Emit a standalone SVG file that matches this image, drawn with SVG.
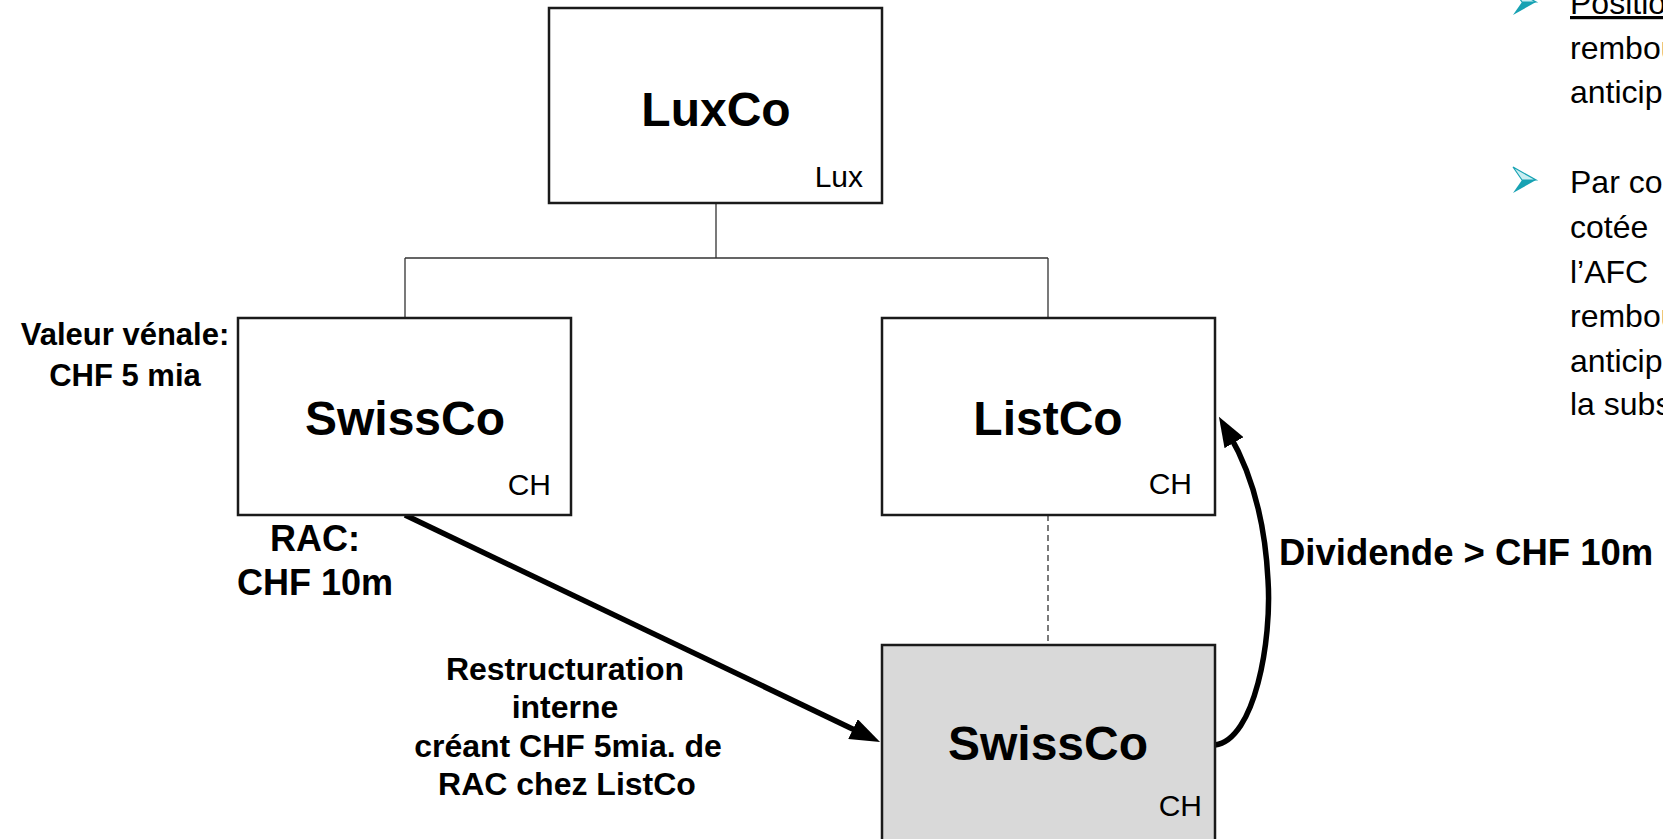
<svg xmlns="http://www.w3.org/2000/svg" width="1663" height="839" viewBox="0 0 1663 839">
<defs>
<style>
.box{fill:#fff;stroke:#1a1a1a;stroke-width:2.5}
.gray{fill:#d9d9d9}
.t{font-family:"Liberation Sans",Arial,sans-serif;fill:#000}
.title{font-weight:bold;font-size:48px;text-anchor:middle}
.tag{font-size:30px;text-anchor:end}
.lbl{font-weight:bold;text-anchor:middle}
.body{font-size:32px}
.tree{stroke:#333;stroke-width:1.3;fill:none}
.dash{stroke:#333;stroke-width:1.3;stroke-dasharray:6 4;fill:none}
.thick{stroke:#000;stroke-width:5.5;fill:none;marker-end:url(#ah)}
.bul{fill:#17a2b3}
.bulhi{fill:#c9eef2;stroke:#17a2b3;stroke-width:1.2}
</style>
<marker id="ah" viewBox="0 0 30 22" markerUnits="userSpaceOnUse" markerWidth="30" markerHeight="22" refX="10" refY="11" orient="auto">
<path d="M0,0 L30,11 L0,22 z" fill="#000"/>
</marker>
</defs>

<g id="connectors">
<path class="tree" d="M716,203 V258 M405,258 H1048 M405,258 V318 M1048,258 V318"/>
<path class="dash" d="M1048,515 V645"/>
<path id="arrow-restructuration" class="thick" d="M405,515 L862,733.4"/>
<path id="arrow-dividende" class="thick" d="M1215,745 C1255,740 1272,640 1268,580 C1265,520 1250,470 1229,434"/>
</g>

<g id="node-luxco">
<rect class="box" x="549" y="8" width="333" height="195"/>
<text class="t title" x="716" y="126">LuxCo</text>
<text class="t tag" x="863" y="187">Lux</text>
</g>

<g id="node-swissco-top">
<rect class="box" x="238" y="318" width="333" height="197"/>
<text class="t title" x="405" y="435">SwissCo</text>
<text class="t tag" x="551" y="495">CH</text>
</g>

<g id="node-listco">
<rect class="box" x="882" y="318" width="333" height="197"/>
<text class="t title" x="1048" y="435">ListCo</text>
<text class="t tag" x="1192" y="494">CH</text>
</g>

<g id="node-swissco-bottom">
<rect class="box gray" x="882" y="645" width="333" height="210"/>
<text class="t title" x="1048" y="760">SwissCo</text>
<text class="t tag" x="1202" y="816">CH</text>
</g>

<g id="labels">
<text class="t lbl" font-size="31" x="125" y="345">Valeur vénale:</text>
<text class="t lbl" font-size="31" x="125" y="386">CHF 5 mia</text>
<text class="t lbl" font-size="36" x="315" y="551">RAC:</text>
<text class="t lbl" font-size="36" x="315" y="595">CHF 10m</text>
<text class="t lbl" font-size="32" x="565" y="680">Restructuration</text>
<text class="t lbl" font-size="32" x="565" y="718">interne</text>
<text class="t lbl" font-size="32" x="568" y="757">créant CHF 5mia. de</text>
<text class="t lbl" font-size="32" x="567" y="795">RAC chez ListCo</text>
<text class="t" font-weight="bold" font-size="36.5" x="1279" y="565">Dividende &gt; CHF 10m</text>
</g>

<g id="bullets">
<polygon class="bul" points="1513,15 1536,2 1522,2"/>
<polygon class="bulhi" points="1513,-11 1536,2 1522,2"/>
<polygon class="bul" points="1513,193 1536,180 1522,180"/>
<polygon class="bulhi" points="1513,167 1536,180 1522,180"/>
<text class="t body" x="1570" y="14" text-decoration="underline">Positio</text>
<text class="t body" x="1570" y="59">rembou</text>
<text class="t body" x="1570" y="103">anticipé</text>
<text class="t body" x="1570" y="193">Par con</text>
<text class="t body" x="1570" y="238">cotée</text>
<text class="t body" x="1570" y="283">l’AFC</text>
<text class="t body" x="1570" y="327">rembou</text>
<text class="t body" x="1570" y="372">anticipé</text>
<text class="t body" x="1570" y="415">la subs</text>
</g>
</svg>
